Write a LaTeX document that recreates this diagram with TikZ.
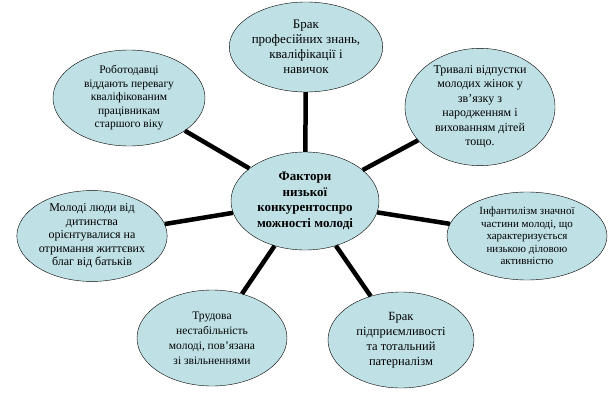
\documentclass[tikz,border=0pt]{standalone}
\usepackage{fontspec}
\setmainfont{Liberation Serif}
\usepackage{tikz}
\usetikzlibrary{shapes.geometric}
\definecolor{factorfill}{RGB}{191,225,229}
\tikzset{factor node/.style={ellipse,fill=factorfill,draw,thin,align=center,inner sep=0pt,font=\fontsize{12}{14.5}\selectfont},}

\begin{document}
\begin{tikzpicture}[x=1pt,y=-1pt]
    \useasboundingbox (0,0) rectangle (613,409);
    \node[factor node,minimum width=148pt,minimum height=98pt,font=\fontsize{13}{15.5}\selectfont] (0) at (305,201) {\textbf{Фактори}\\\textbf{низької}\\\textbf{конкурентоспро}\\\textbf{можності молоді}};
    \node[factor node,minimum width=148pt,minimum height=90pt,font=\fontsize{13}{15}\selectfont] (1) at (306,47) {Брак\\професійних знань,\\кваліфікації і\\навичок};
    \node[factor node,minimum width=150pt,minimum height=106pt] (2) at (480,107) {Тривалі відпустки\\молодих жінок у\\зв'язку з\\народженням і\\вихованням дітей\\тощо.};
    \node[factor node,minimum width=160pt,minimum height=88pt,font=\fontsize{11}{12.5}\selectfont] (3) at (527,236) {Інфантилізм значної\\частини молоді, що\\характеризується\\низькою діловою\\активністю};
    \node[factor node,minimum width=146pt,minimum height=96pt,font=\fontsize{12.5}{15}\selectfont] (4) at (401,340) {Брак\\підприємливості\\та тотальний\\патерналізм};
    \node[factor node,minimum width=150pt,minimum height=96pt,font=\fontsize{11.5}{15}\selectfont] (5) at (212,338) {Трудова\\нестабільність\\молоді, пов'язана\\зі звільненнями};
    \node[factor node,minimum width=150pt,minimum height=88pt,font=\fontsize{12}{13.5}\selectfont] (6) at (92,236) {Молоді люди від\\дитинства\\орієнтувалися на\\отримання життєвих\\благ від батьків};
    \node[factor node,minimum width=152pt,minimum height=96pt,font=\fontsize{11.5}{13.5}\selectfont] (7) at (129,98) {Роботодавці\\віддають перевагу\\кваліфікованим\\працівникам\\старшого віку};

    \path[draw,line width=4.5pt]
    (0) edge (1)
    (0) edge (2)
    (0) edge (3)
    (0) edge (4)
    (0) edge (5)
    (0) edge (6)
    (0) edge (7)
    ;
\end{tikzpicture}
\end{document}
